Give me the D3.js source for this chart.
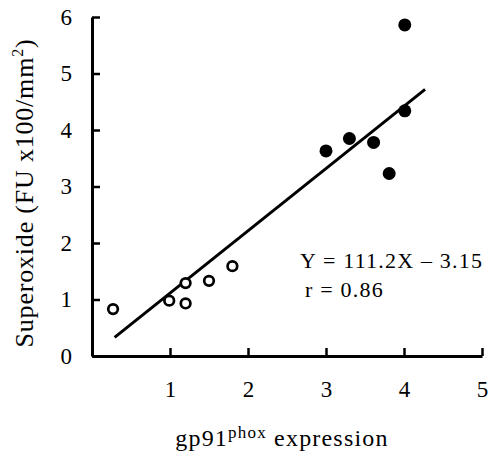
<!DOCTYPE html>
<html>
<head>
<meta charset="utf-8">
<script src="https://cdn.jsdelivr.net/npm/d3@7"></script>
<style>
  body { margin: 0; background: #fff; }
  svg text { font-family: 'Liberation Serif', 'DejaVu Serif', serif; fill: #000; }
</style>
</head>
<body>
<svg></svg>
<script>
// values
let openX = [0.27, 0.99, 1.2, 1.2, 1.5, 1.8]
let openY = [0.83, 0.98, 1.29, 0.93, 1.33, 1.59]
let filledX = [3.0, 3.3, 3.61, 3.81, 4.01, 4.01]
let filledY = [3.63, 3.85, 3.78, 3.23, 4.34, 5.86]
let fitX = [0.29, 4.27]
let fitY = [0.33, 4.72]
let xTicks = [1, 2, 3, 4, 5]
let yTicks = [0, 1, 2, 3, 4, 5, 6]
let equation = ["Y = 111.2X \u2013 3.15", "r = 0.86"]

let width = 489
let height = 452
let serif = "'Liberation Serif', 'DejaVu Serif', serif"

let svg = d3.select('svg')
  .attr('width', width)
  .attr('height', height)

let xScale = d3.scaleLinear().domain([0, 5]).range([92, 482])
let yScale = d3.scaleLinear().domain([0, 6]).range([356, 17])

let xAxis = d3.axisBottom(xScale)
  .tickValues(xTicks)
  .tickSizeInner(-8)
  .tickSizeOuter(0)
  .tickPadding(25)
  .tickFormat(d3.format('d'))

let yAxis = d3.axisLeft(yScale)
  .tickValues(yTicks)
  .tickSizeInner(-8)
  .tickSizeOuter(0)
  .tickPadding(20)
  .tickFormat(d3.format('d'))

let gx = svg.append('g')
  .attr('transform', `translate(0, ${yScale(0)})`)
  .call(xAxis)

let gy = svg.append('g')
  .attr('transform', `translate(${xScale(0)}, 0)`)
  .call(yAxis)

for (let g of [gx, gy]) {
  g.attr('font-family', serif).attr('font-size', 23)
  g.select('.domain').attr('stroke', '#000').attr('stroke-width', 3)
  g.selectAll('.tick line').attr('stroke', '#000').attr('stroke-width', 2.5)
  g.selectAll('.tick text').attr('fill', '#000')
}

// regression line
svg.append('line')
  .attr('x1', xScale(fitX[0]))
  .attr('y1', yScale(fitY[0]))
  .attr('x2', xScale(fitX[1]))
  .attr('y2', yScale(fitY[1]))
  .attr('stroke', '#000')
  .attr('stroke-width', 3)

svg.selectAll('circle.open')
  .data(openX)
  .enter()
  .append('circle')
  .attr('class', 'open')
  .attr('cx', (d) => xScale(d))
  .attr('cy', (d, i) => yScale(openY[i]))
  .attr('r', 4.8)
  .attr('fill', '#fff')
  .attr('stroke', '#000')
  .attr('stroke-width', 2.7)

svg.selectAll('circle.filled')
  .data(filledX)
  .enter()
  .append('circle')
  .attr('class', 'filled')
  .attr('cx', (d) => xScale(d))
  .attr('cy', (d, i) => yScale(filledY[i]))
  .attr('r', 6.5)
  .attr('fill', '#000')

// equation
svg.append('text')
  .attr('x', 300)
  .attr('y', 268)
  .attr('font-family', serif)
  .attr('font-size', 22)
  .attr('letter-spacing', 1.2)
  .text(equation[0])

svg.append('text')
  .attr('x', 305)
  .attr('y', 297)
  .attr('font-family', serif)
  .attr('font-size', 22)
  .attr('letter-spacing', 1.2)
  .text(equation[1])

// x title
let xt = svg.append('text')
  .attr('x', 282)
  .attr('y', 446)
  .attr('text-anchor', 'middle')
  .attr('font-family', serif)
  .attr('font-size', 24)
  .attr('letter-spacing', 1.2)
xt.append('tspan').text('gp91')
xt.append('tspan').attr('dy', -8).attr('font-size', 17).text('phox')
xt.append('tspan').attr('dy', 8).text(' expression')

// y title
let yt = svg.append('text')
  .attr('transform', 'translate(33, 193) rotate(-90)')
  .attr('text-anchor', 'middle')
  .attr('font-family', serif)
  .attr('font-size', 26)
  .attr('letter-spacing', 0.8)
yt.append('tspan').text('Superoxide (FU x100/mm')
yt.append('tspan').attr('dy', -10).attr('font-size', 16).text('2')
yt.append('tspan').attr('dy', 10).text(')')
</script>
</body>
</html>
